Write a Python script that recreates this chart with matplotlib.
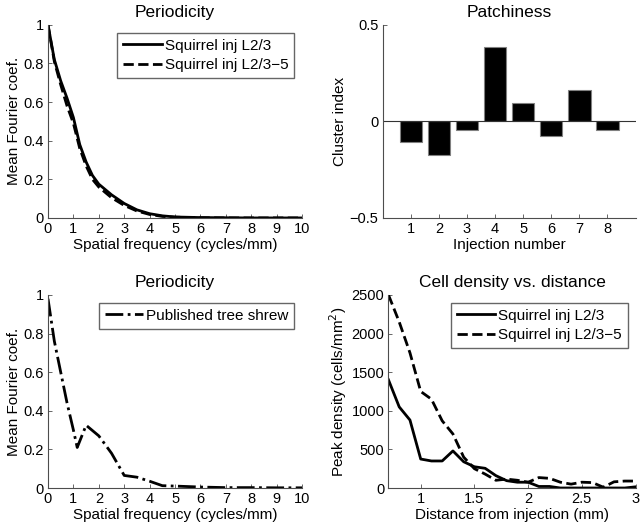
import matplotlib.pyplot as plt
import numpy as np

plt.rcParams['font.family'] = ['Liberation Sans', 'DejaVu Sans']
plt.rcParams['font.size'] = 10.5
plt.rcParams['axes.labelsize'] = 11
plt.rcParams['axes.titlesize'] = 12.5
plt.rcParams['legend.fontsize'] = 11

# periodicity, squirrel injections
freq = [0, 0.25, 0.5, 0.75, 1, 1.25, 1.5, 1.75, 2, 2.5, 3, 3.5, 4, 4.5, 5, 6, 7, 8, 9, 10]
coef_l23 = [1.0, 0.82, 0.71, 0.62, 0.52, 0.38, 0.29, 0.22, 0.175, 0.12, 0.075, 0.042, 0.022,
            0.011, 0.005, 0.002, 0.001, 0.0, 0.0, 0.0]
coef_l235 = [1.0, 0.81, 0.69, 0.58, 0.49, 0.36, 0.27, 0.20, 0.16, 0.105, 0.065, 0.036, 0.018,
             0.008, 0.004, 0.001, 0.0, 0.0, 0.0, 0.0]

# periodicity, published tree shrew
freq_ts = [0, 0.25, 0.5, 0.75, 1.0, 1.15, 1.5, 2.0, 2.5, 3.0, 3.5, 4.0, 4.5, 5, 6, 7, 8, 9, 10]
coef_ts = [0.98, 0.76, 0.6, 0.44, 0.3, 0.21, 0.325, 0.27, 0.18, 0.065, 0.056, 0.035, 0.012,
           0.01, 0.005, 0.002, 0.002, 0.001, 0.001]

# patchiness
injection = [1, 2, 3, 4, 5, 6, 7, 8]
cluster_index = [-0.107, -0.176, -0.043, 0.384, 0.095, -0.074, 0.165, -0.047]

# cell density vs distance
dist = [0.7, 0.8, 0.9, 1.0, 1.1, 1.2, 1.3, 1.4, 1.5, 1.6, 1.7, 1.8, 1.9, 2.0, 2.1, 2.2, 2.3,
        2.4, 2.5, 2.6, 2.7, 2.8, 2.9, 3.0]
dens_l23 = [1400, 1050, 880, 375, 350, 350, 480, 340, 275, 255, 160, 95, 75, 75, 20, 20, 0,
            0, 0, 0, 0, 0, 0, 15]
dens_l235 = [2500, 2150, 1750, 1250, 1150, 870, 700, 400, 250, 180, 100, 115, 100, 75, 135,
             125, 75, 50, 75, 70, 10, 80, 90, 90]

fig = plt.figure(figsize=(6.4, 5.29), dpi=100)
ax1 = fig.add_axes([0.075, 0.588, 0.397, 0.365])
ax2 = fig.add_axes([0.598, 0.588, 0.395, 0.365])
ax3 = fig.add_axes([0.075, 0.0775, 0.397, 0.365])
ax4 = fig.add_axes([0.607, 0.0775, 0.386, 0.365])

for ax in [ax1, ax2, ax3, ax4]:
    ax.spines['top'].set_visible(False)
    ax.spines['right'].set_visible(False)
    for s in ['left', 'bottom']:
        ax.spines[s].set_color('0.3')
        ax.spines[s].set_linewidth(0.8)
    ax.tick_params(direction='in', length=3, width=0.6, color='0.3', pad=3)

leg_kw = dict(loc='upper right', fancybox=False, edgecolor='0.4', framealpha=1,
              handlelength=2.5, handletextpad=0.2, borderpad=0.4, labelspacing=0.35)

ax1.plot(freq, coef_l23, '-', color='k', lw=2, label='Squirrel inj L2/3')
ax1.plot(freq, coef_l235, '--', color='k', lw=2, label='Squirrel inj L2/3\u22125')
ax1.set_xlim(0, 10)
ax1.set_ylim(0, 1)
ax1.set_xticks(range(0, 11))
ax1.set_yticks([0, 0.2, 0.4, 0.6, 0.8, 1])
ax1.set_yticklabels(['0', '0.2', '0.4', '0.6', '0.8', '1'])
ax1.set_xlabel('Spatial frequency (cycles/mm)', labelpad=1)
ax1.set_ylabel('Mean Fourier coef.', labelpad=2)
ax1.set_title('Periodicity', pad=6)
ax1.legend(**leg_kw)

ax2.bar(injection, cluster_index, width=0.8, color='k', edgecolor='0.5', lw=0.8)
ax2.axhline(0, color='0.2', lw=0.8)
ax2.set_xlim(0, 9)
ax2.set_ylim(-0.5, 0.5)
ax2.set_xticks(injection)
ax2.set_yticks([-0.5, 0, 0.5])
ax2.set_yticklabels(['\u22120.5', '0', '0.5'])
ax2.set_xlabel('Injection number', labelpad=1)
ax2.set_ylabel('Cluster index', labelpad=2)
ax2.set_title('Patchiness', pad=6)

ax3.plot(freq_ts, coef_ts, '-.', color='k', lw=2, label='Published tree shrew')
ax3.set_xlim(0, 10)
ax3.set_ylim(0, 1)
ax3.set_xticks(range(0, 11))
ax3.set_yticks([0, 0.2, 0.4, 0.6, 0.8, 1])
ax3.set_yticklabels(['0', '0.2', '0.4', '0.6', '0.8', '1'])
ax3.set_xlabel('Spatial frequency (cycles/mm)', labelpad=1)
ax3.set_ylabel('Mean Fourier coef.', labelpad=2)
ax3.set_title('Periodicity', pad=6)
ax3.legend(**leg_kw)

ax4.plot(dist, dens_l23, '-', color='k', lw=2, label='Squirrel inj L2/3')
ax4.plot(dist, dens_l235, '--', color='k', lw=2, label='Squirrel inj L2/3\u22125')
ax4.set_xlim(0.7, 3)
ax4.set_ylim(0, 2500)
ax4.set_xticks([1, 1.5, 2, 2.5, 3])
ax4.set_xticklabels(['1', '1.5', '2', '2.5', '3'])
ax4.set_yticks(range(0, 2501, 500))
ax4.set_xlabel('Distance from injection (mm)', labelpad=1)
ax4.set_ylabel('Peak density (cells/mm$^2$)', labelpad=2)
ax4.set_title('Cell density vs. distance', pad=6)
ax4.legend(**leg_kw)

fig.savefig('out.png', dpi=100)
